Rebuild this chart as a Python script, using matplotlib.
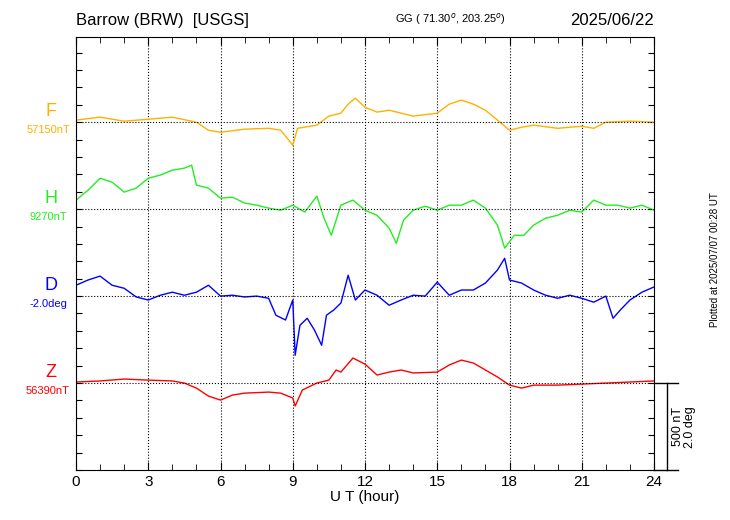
import matplotlib
matplotlib.use('Agg')
import matplotlib.pyplot as plt
import numpy as np

plt.rcParams['font.family'] = ['Liberation Sans', 'DejaVu Sans']

# deviations from baseline (nT, D in deg)
t_F = [0,1,2,3,4,5,5.5,6,7,8,8.5,9,9.2,10,10.5,11,11.3,11.6,12,12.5,13,14,15,15.5,16,16.5,17,17.5,18,18.5,19,20,21,21.5,22,23,24]
F = [12,29,6,17,29,0,-46,-58,-40,-35,-46,-132,-35,-17,35,52,104,138,86,58,69,35,52,104,127,104,69,12,-46,-29,-17,-35,-23,-35,0,6,0]

t_H = [0,0.5,1,1.5,2,2.5,3,3.5,4,4.5,4.8,5,5.5,6,6.5,7,7.5,8,8.5,9,9.5,10,10.3,10.6,11,11.5,12,12.5,13,13.3,13.6,14,14.5,15,15.5,16,16.5,17,17.5,17.8,18.2,18.6,19,19.5,20,20.5,21,21.5,22,22.5,23,23.5,24]
H = [52,109,178,155,98,121,178,196,224,236,253,138,121,63,69,35,23,6,-6,23,-17,75,-52,-150,23,52,-6,-35,-109,-196,-63,-6,17,-6,23,23,52,6,-92,-224,-150,-150,-92,-52,-35,-6,-17,52,23,23,6,23,-6]

t_D = [0,0.5,1,1.5,2,2.5,3,3.5,4,4.5,5,5.5,6,6.5,7,7.5,8,8.3,8.7,9,9.1,9.3,9.6,9.9,10.2,10.4,10.7,11,11.3,11.6,12,12.5,13,13.5,14,14.5,15,15.5,16,16.5,17,17.5,17.8,18,18.5,19,19.5,20,20.5,21,21.5,22,22.3,22.6,23,23.5,24]
D = [0.25,0.37,0.46,0.25,0.18,-0.02,-0.09,0.02,0.09,0.02,0.09,0.25,0,0.02,-0.02,0,-0.05,-0.44,-0.55,-0.09,-1.36,-0.67,-0.51,-0.78,-1.13,-0.44,-0.32,-0.16,0.48,-0.09,0.14,0.02,-0.21,-0.09,0.02,0,0.32,0.02,0.14,0.14,0.30,0.60,0.87,0.37,0.30,0.14,0.02,-0.05,0.02,-0.05,-0.14,0,-0.51,-0.32,-0.09,0.09,0.21]

t_Z = [0,1,2,3,4,4.5,5,5.5,6,6.5,7,8,8.5,9,9.1,9.4,10,10.5,10.8,11,11.5,12,12.5,13,13.5,14,15,15.5,16,16.5,17,17.5,18,18.5,19,20,21,22,23,24]
Z = [6,12,23,17,12,0,-29,-75,-98,-69,-58,-52,-58,-86,-132,-40,0,17,75,63,144,109,46,63,75,58,63,104,132,115,75,35,-12,-29,-12,-12,-6,0,6,12]

names = ['F', 'H', 'D', 'Z']
base_labels = ['57150nT', '9270nT', '-2.0deg', '56390nT']
colors = ['#FFB000', '#22EE22', '#0000FF', '#FF0000']
offsets = [2000, 1500, 1000, 500]
nT_per_deg = 250.0
ytop = 2490

ax_l, ax_b, ax_w, ax_h = 76/730, 50/520, 578/730, 433/520
fig = plt.figure(figsize=(7.3, 5.2), dpi=100)
ax = fig.add_axes([ax_l, ax_b, ax_w, ax_h])

series = [(t_F, F, 1.0), (t_H, H, 1.0), (t_D, D, nT_per_deg), (t_Z, Z, 1.0)]
for i, (t, v, k) in enumerate(series):
  ax.plot(t, np.array(v)*k + offsets[i], color=colors[i], lw=1)
  ax.axhline(offsets[i], color='k', ls=':', lw=0.8)
  y = ax_b + ax_h * offsets[i] / ytop
  fig.text(51/730, y + 2/520, names[i], color=colors[i], fontsize=13, ha='center', va='bottom')
  fig.text(48/730, y - 3/520, base_labels[i], color=colors[i], fontsize=8, ha='center', va='top')

ax.set_xlim(0, 24)
ax.set_ylim(0, ytop)
ax.set_xticks(range(0, 25, 3))
ax.set_xticks(range(0, 25), minor=True)
ax.set_yticks(np.arange(0, ytop, 100))
ax.set_yticklabels([])
ax.tick_params(direction='in', which='both', top=True, right=True, length=6)
ax.tick_params(axis='x', which='minor', length=4)
ax.tick_params(axis='y', length=4)
ax.grid(axis='x', color='k', ls=':', lw=0.8)
ax.set_xlabel('U T (hour)', fontsize=11, labelpad=1)
ax.tick_params(axis='x', labelsize=11)

# scale bar
ax.plot([24, 25.0], [500, 500], color='k', lw=1, clip_on=False)
ax.plot([24, 25.0], [0, 0], color='k', lw=1, clip_on=False)
ax.plot([24.55, 24.55], [0, 500], color='k', lw=1, clip_on=False)
fig.text(684/730, 93/520, '500 nT\n2.0 deg', rotation=90, fontsize=9,
         ha='center', va='center', linespacing=0.9)
fig.text(715/730, 260/520, 'Plotted at 2025/07/07 00:28 UT', rotation=90, fontsize=7,
         ha='center', va='center')

fig.text(76/730, 492/520, 'Barrow (BRW)  [USGS]', fontsize=12, va='bottom')
fig.text(450/730, 493/520, 'GG ( 71.30$^o$, 203.25$^o$)', fontsize=8, va='bottom', ha='center')
fig.text(654/730, 492/520, '2025/06/22', fontsize=12, va='bottom', ha='right')

fig.savefig('out.png', dpi=100)
